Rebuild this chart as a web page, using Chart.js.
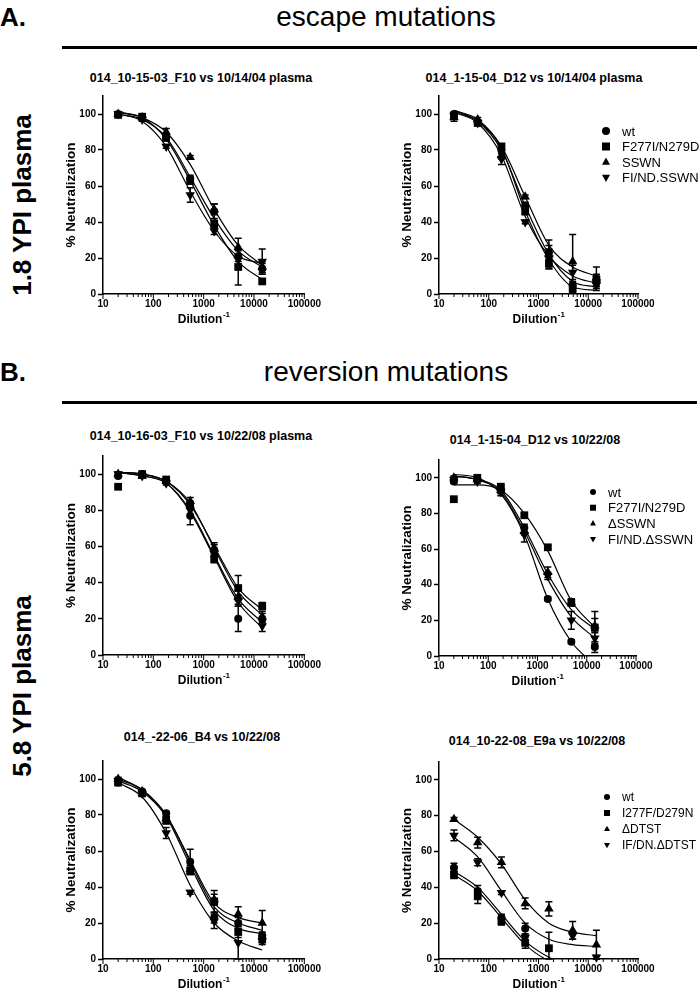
<!DOCTYPE html>
<html lang="en">
<head>
<meta charset="UTF-8">
<title>Neutralization curves</title>
<script src="https://cdn.jsdelivr.net/npm/chart.js@4.4.0/dist/chart.umd.min.js"></script>
<style>
  body { margin: 0; width: 700px; height: 993px; position: relative; overflow: hidden; background: #fff;
         font-family: "Liberation Sans", Arial, sans-serif; color: #000; }
  .t { position: absolute; white-space: nowrap; }
  .panel { position: absolute; }
  .rule { position: absolute; left: 62px; width: 635px; height: 3px; background: #000; }
  .rot { position: absolute; white-space: nowrap; font-weight: bold; font-size: 26px;
         transform: translate(-50%, -50%) rotate(-90deg); }
  .ptitle { position: absolute; white-space: nowrap; font-weight: bold; font-size: 12.5px; transform: translateX(-50%); }
</style>
</head>
<body>
<div class="t" style="left:0;top:2px;font-size:26px;font-weight:bold">A.</div>
<div class="t" style="left:386px;top:1px;font-size:28px;transform:translateX(-50%)">escape mutations</div>
<div class="rule" style="top:46px"></div>
<div class="t" style="left:0;top:357px;font-size:26px;font-weight:bold">B.</div>
<div class="t" style="left:386px;top:356px;font-size:28px;transform:translateX(-50%)">reversion mutations</div>
<div class="rule" style="top:401px"></div>
<div class="rot" style="left:22px;top:205px">1.8 YPI plasma</div>
<div class="rot" style="left:22px;top:686px">5.8 YPI plasma</div>

<script>
// dilution series (x) and axis ticks
const dilutions = [20, 60, 180, 540, 1620, 4860, 14580];
const xTickLabels = [10, 100, 1000, 10000, 100000];
const yTickLabels = [0, 20, 40, 60, 80, 100];

const escapeNames = ["wt", "F277I/N279D", "SSWN", "FI/ND.SSWN"];
const reversionNames = ["wt", "F277I/N279D", "\u0394SSWN", "FI/ND.\u0394SSWN"];
const dtstNames = ["wt", "I277F/D279N", "\u0394DTST", "IF/DN.\u0394DTST"];

// rows: wt, square, triangle, inverted triangle
// A, left: 014_10-15-03_F10 vs 10/14/04 plasma
const a1Mean = [[100, 98, 87, 64, 46, 21, 14], [99.5, 98.5, 87, 63, 39, 15, 7], [100, 98, 90, 76, 47, 26, 15], [100, 97, 82, 55, 35, 19, 18]];
const a1Err  = [[1, 1, 2, 2, 4, 3, 3], [1, 1, 1, 2, 2, 10, 1], [1, 1, 2, 1, 3, 5, 3], [1, 1, 1, 4, 2, 3, 7]];
const a1Fit  = [[100, 97, 87, 65, 42, 24, 15], [101, 98, 86, 63, 38, 18, 8], [101, 98, 90, 72, 47, 27, 16], [100, 96, 82, 57, 35, 21, 17]];

// A, right: 014_1-15-04_D12 vs 10/14/04 plasma
const a2Mean = [[100, 95, 80, 49, 23, 5, 7], [99, 95, 82, 46, 17, 3, 8], [98, 97, 77, 54, 22, 18, 9], [99, 95, 75, 40, 20, 12, 5]];
const a2Err  = [[1, 1, 2, 2, 4, 2, 3], [1, 1, 1, 2, 3, 2, 3], [2, 1, 2, 1, 8, 15, 6], [1, 1, 3, 1, 5, 4, 3]];
const a2Fit  = [[102, 96, 80, 49, 22, 7, 4], [101, 96, 81, 46, 19, 4, 2], [102, 97, 82, 54, 27, 15, 10], [101, 95, 77, 43, 21, 10, 6]];

// B, top left: 014_10-16-03_F10 vs 10/22/08 plasma
const b1Mean = [[99, 100, 96, 77, 58, 20, 20], [93, 100, 97, 83, 53, 37, 27], [100, 99, 96, 85, 59, 32, 21], [100, 99, 95, 80, 56, 30, 16]];
const b1Err  = [[1, 1, 1, 5, 3, 7, 3], [1, 1, 1, 2, 2, 7, 2], [1, 1, 1, 2, 3, 4, 3], [1, 1, 1, 3, 2, 3, 3]];
const b1Fit  = [[101, 99, 95, 79, 54, 29, 15], [101, 100, 96, 83, 60, 37, 25], [101, 100, 96, 84, 59, 35, 22], [101, 99, 95, 80, 55, 31, 18]];

// B, top right: 014_1-15-04_D12 vs 10/22/08
const b2Mean = [[98, 99, 93, 72, 32, 8, 5], [88, 100, 95, 79, 61, 30, 16], [100, 99, 93, 70, 47, 30, 17], [99, 98, 92, 68, 45, 20, 10]];
const b2Err  = [[1, 1, 1, 2, 1, 1, 3], [1, 1, 1, 1, 1, 2, 9], [1, 1, 2, 2, 3, 2, 4], [1, 1, 2, 4, 2, 5, 4]];
const b2Fit  = [[102, 100, 91, 68, 32, 8, -5], [96, 96, 93, 80, 59, 31, 16], [101, 99, 93, 72, 46, 26, 15], [101, 99, 92, 70, 43, 22, 10]];

// B, bottom left: 014_-22-06_B4 vs 10/22/08
const b3Mean = [[98, 93, 81, 54, 23, 20, 13], [98, 92, 77, 49, 32, 15, 11], [100, 93, 78, 50, 33, 25, 20], [99, 92, 70, 37, 21, 9, 10]];
const b3Err  = [[1, 1, 1, 7, 3, 3, 2], [1, 1, 2, 2, 6, 3, 2], [1, 1, 1, 2, 3, 4, 7], [1, 1, 3, 1, 4, 9, 2]];
const b3Fit  = [[100, 94, 80, 54, 29, 20, 16], [99, 93, 79, 52, 27, 17, 14], [101, 94, 80, 55, 31, 23, 20], [98, 90, 70, 41, 20, 10, 5]];

// B, bottom right: 014_10-22-08_E9a vs 10/22/08
const b4Mean = [[51, 38, 23, 17, null, null, null], [47, 35, 21, 9, 6, null, null], [78, 65, 54, 31, 28, 16, 8], [69, 54, 37, 12, null, 13, 1]];
const b4Err  = [[2.5, 3, 2, 3, 0, 0, 0], [2, 4, 2, 3, 9, 0, 0], [1, 3, 3, 3, 4, 5, 8], [3, 2, 1, 2, 0, 2, 1]];
const b4Fit  = [[49, 40, 25, 10, 1, -4, -5], [47, 38, 23, 8, -1, -4, -5], [78, 68, 53, 33, 20, 15, 13], [68, 57, 38, 20, 11, 8, 7]];

const FONT = "'Liberation Sans', Arial, sans-serif";
const markerStyle = ["circle", "rect", "triangle", "triangle"];
const markerRot = [0, 0, 0, 180];
const markerSize = [4, 5.5, 5.5, 5.5];

function drawMark(ctx, i, x, y, r) {
  ctx.beginPath();
  if (i === 0) ctx.arc(x, y, r, 0, Math.PI * 2);
  else if (i === 1) ctx.rect(x - r, y - r, 2 * r, 2 * r);
  else {
    const s = i === 2 ? 1 : -1;
    ctx.moveTo(x, y - s * r * 1.1);
    ctx.lineTo(x + r, y + s * r * 0.7);
    ctx.lineTo(x - r, y + s * r * 0.7);
    ctx.closePath();
  }
  ctx.fill();
}

const errorBars = {
  id: "errorBars",
  afterDatasetsDraw(chart) {
    const ctx = chart.ctx, xs = chart.scales.x, ys = chart.scales.y;
    ctx.save();
    ctx.strokeStyle = "#000";
    ctx.lineWidth = 1.5;
    chart.data.datasets.forEach(ds => {
      if (!ds.errorBars) return;
      ds.data.forEach((p, j) => {
        const e = ds.errorBars[j];
        if (p.y === null || !e) return;
        const px = xs.getPixelForValue(p.x);
        const top = ys.getPixelForValue(p.y + e);
        const bot = ys.getPixelForValue(Math.max(0, p.y - e));
        ctx.beginPath();
        ctx.moveTo(px, top); ctx.lineTo(px, bot);
        ctx.moveTo(px - 3.5, top); ctx.lineTo(px + 3.5, top);
        ctx.moveTo(px - 3.5, bot); ctx.lineTo(px + 3.5, bot);
        ctx.stroke();
      });
    });
    ctx.restore();
  }
};

const axisExtras = {
  id: "axisExtras",
  afterDraw(chart) {
    const ctx = chart.ctx, s = chart.scales.x, a = chart.chartArea;
    ctx.save();
    ctx.strokeStyle = "#000";
    ctx.lineWidth = 1;
    s.ticks.forEach(t => {
      const px = s.getPixelForValue(t.value);
      const major = xTickLabels.includes(t.value);
      ctx.beginPath();
      ctx.moveTo(px, a.bottom);
      ctx.lineTo(px, a.bottom + (major ? 5 : 3));
      ctx.stroke();
    });
    // x axis title with superscript
    ctx.fillStyle = "#000";
    ctx.textBaseline = "alphabetic";
    ctx.font = "bold 12px " + FONT;
    const w1 = ctx.measureText("Dilution").width;
    ctx.font = "bold 8px " + FONT;
    const w2 = ctx.measureText("-1").width;
    const x0 = (a.left + a.right) / 2 - (w1 + w2) / 2;
    const yb = a.bottom + 29;
    ctx.font = "bold 12px " + FONT;
    ctx.fillText("Dilution", x0, yb);
    ctx.font = "bold 8px " + FONT;
    ctx.fillText("-1", x0 + w1 + 0.5, yb - 6);
    ctx.restore();
  }
};

const miniLegend = {
  id: "miniLegend",
  afterDraw(chart, args, opts) {
    if (!opts || !opts.labels) return;
    const ctx = chart.ctx;
    ctx.save();
    ctx.fillStyle = "#000";
    ctx.font = opts.size + "px " + FONT;
    ctx.textBaseline = "middle";
    opts.labels.forEach((lab, i) => {
      const y = opts.y + i * opts.gap;
      drawMark(ctx, i, opts.x, y, opts.r);
      ctx.fillText(lab, opts.x + opts.textGap, y + 1);
    });
    ctx.restore();
  }
};

const minorTicks = [];
for (let k = 0; k < xTickLabels.length - 1; k++) {
  for (let m = 1; m < 10; m++) minorTicks.push(xTickLabels[k] * m);
}
minorTicks.push(xTickLabels[xTickLabels.length - 1]);

function panel(p) {
  const cl = p.left - 40, ct = p.top - 6;
  const w = (p.legend ? 700 : p.right + 20) - cl;
  const h = p.bottom - ct + 36;
  const div = document.createElement("div");
  div.className = "panel";
  div.style.cssText = `left:${cl}px;top:${ct}px;width:${w}px;height:${h}px`;
  const cv = document.createElement("canvas");
  cv.width = w; cv.height = h;
  div.appendChild(cv);
  document.body.appendChild(div);

  const t = document.createElement("div");
  t.className = "ptitle";
  t.style.left = p.tx + "px";
  t.style.top = p.ty + "px";
  t.textContent = p.title;
  document.body.appendChild(t);

  const datasets = [];
  for (let i = 0; i < 4; i++) {
    datasets.push({
      data: dilutions.map((d, j) => ({ x: d, y: p.fit[i][j] })),
      borderColor: "#000", borderWidth: 1.2, pointRadius: 0,
      cubicInterpolationMode: "monotone", fill: false, clip: 0
    });
  }
  for (let i = 0; i < 4; i++) {
    datasets.push({
      data: dilutions.map((d, j) => ({ x: d, y: p.mean[i][j] })),
      showLine: false, errorBars: p.err[i],
      pointStyle: markerStyle[i], rotation: markerRot[i], pointRadius: markerSize[i],
      backgroundColor: "#000", borderColor: "#000", borderWidth: 0, clip: false
    });
  }

  new Chart(cv, {
    type: "line",
    data: { datasets },
    options: {
      responsive: false, animation: false, events: [],
      layout: { padding: { left: 0, top: 6, right: w - (p.right - cl), bottom: 0 } },
      plugins: {
        legend: { display: false }, tooltip: { enabled: false },
        miniLegend: p.legend ? { labels: p.legend, x: p.lx - cl, y: p.ly - ct, gap: p.lgap, r: p.lr, textGap: p.ltx, size: p.lsize } : {}
      },
      scales: {
        x: {
          type: "logarithmic", min: 10, max: 100000,
          afterBuildTicks(s) { s.ticks = minorTicks.map(v => ({ value: v })); },
          afterFit(s) { s.height = 36; },
          ticks: {
            autoSkip: false, maxRotation: 0, padding: 4, color: "#000",
            font: { family: FONT, size: 10, weight: "bold" },
            callback: v => (xTickLabels.includes(v) ? String(v) : "")
          },
          grid: { display: false, drawTicks: false },
          border: { display: true, color: "#000", width: 1.5 }
        },
        y: {
          min: 0, max: 110,
          afterBuildTicks(s) { s.ticks = yTickLabels.map(v => ({ value: v })); },
          afterFit(s) { s.width = 40; },
          ticks: { padding: 2, color: "#000", font: { family: FONT, size: 10, weight: "bold" } },
          grid: { drawOnChartArea: false, tickLength: 5, color: "#000", tickWidth: 1.5 },
          border: { display: true, color: "#000", width: 1.5 },
          title: { display: true, text: "% Neutralization", color: "#000", padding: 0,
                   font: { family: FONT, size: 13.5, weight: "bold" } }
        }
      }
    },
    plugins: [errorBars, axisExtras, miniLegend]
  });
}

panel({ title: "014_10-15-03_F10 vs 10/14/04 plasma", tx: 201, ty: 71, left: 103, right: 305, top: 94, bottom: 294,
        mean: a1Mean, err: a1Err, fit: a1Fit });
panel({ title: "014_1-15-04_D12 vs 10/14/04 plasma", tx: 534, ty: 71, left: 439, right: 638, top: 94, bottom: 294,
        mean: a2Mean, err: a2Err, fit: a2Fit,
        legend: escapeNames, lx: 606, ly: 131, lgap: 15.5, lr: 4, ltx: 16, lsize: 13 });
panel({ title: "014_10-16-03_F10 vs 10/22/08 plasma", tx: 201, ty: 429, left: 103, right: 305, top: 454, bottom: 655,
        mean: b1Mean, err: b1Err, fit: b1Fit });
panel({ title: "014_1-15-04_D12 vs 10/22/08", tx: 535, ty: 433, left: 439, right: 636, top: 458, bottom: 656,
        mean: b2Mean, err: b2Err, fit: b2Fit,
        legend: reversionNames, lx: 593, ly: 492, lgap: 15.7, lr: 3, ltx: 15, lsize: 13 });
panel({ title: "014_-22-06_B4 vs 10/22/08", tx: 202, ty: 730, left: 103, right: 305, top: 759, bottom: 959,
        mean: b3Mean, err: b3Err, fit: b3Fit });
panel({ title: "014_10-22-08_E9a vs 10/22/08", tx: 537, ty: 734, left: 439, right: 638, top: 760, bottom: 959,
        mean: b4Mean, err: b4Err, fit: b4Fit,
        legend: dtstNames, lx: 607, ly: 797, lgap: 16, lr: 3, ltx: 15, lsize: 12 });
</script>
</body>
</html>
